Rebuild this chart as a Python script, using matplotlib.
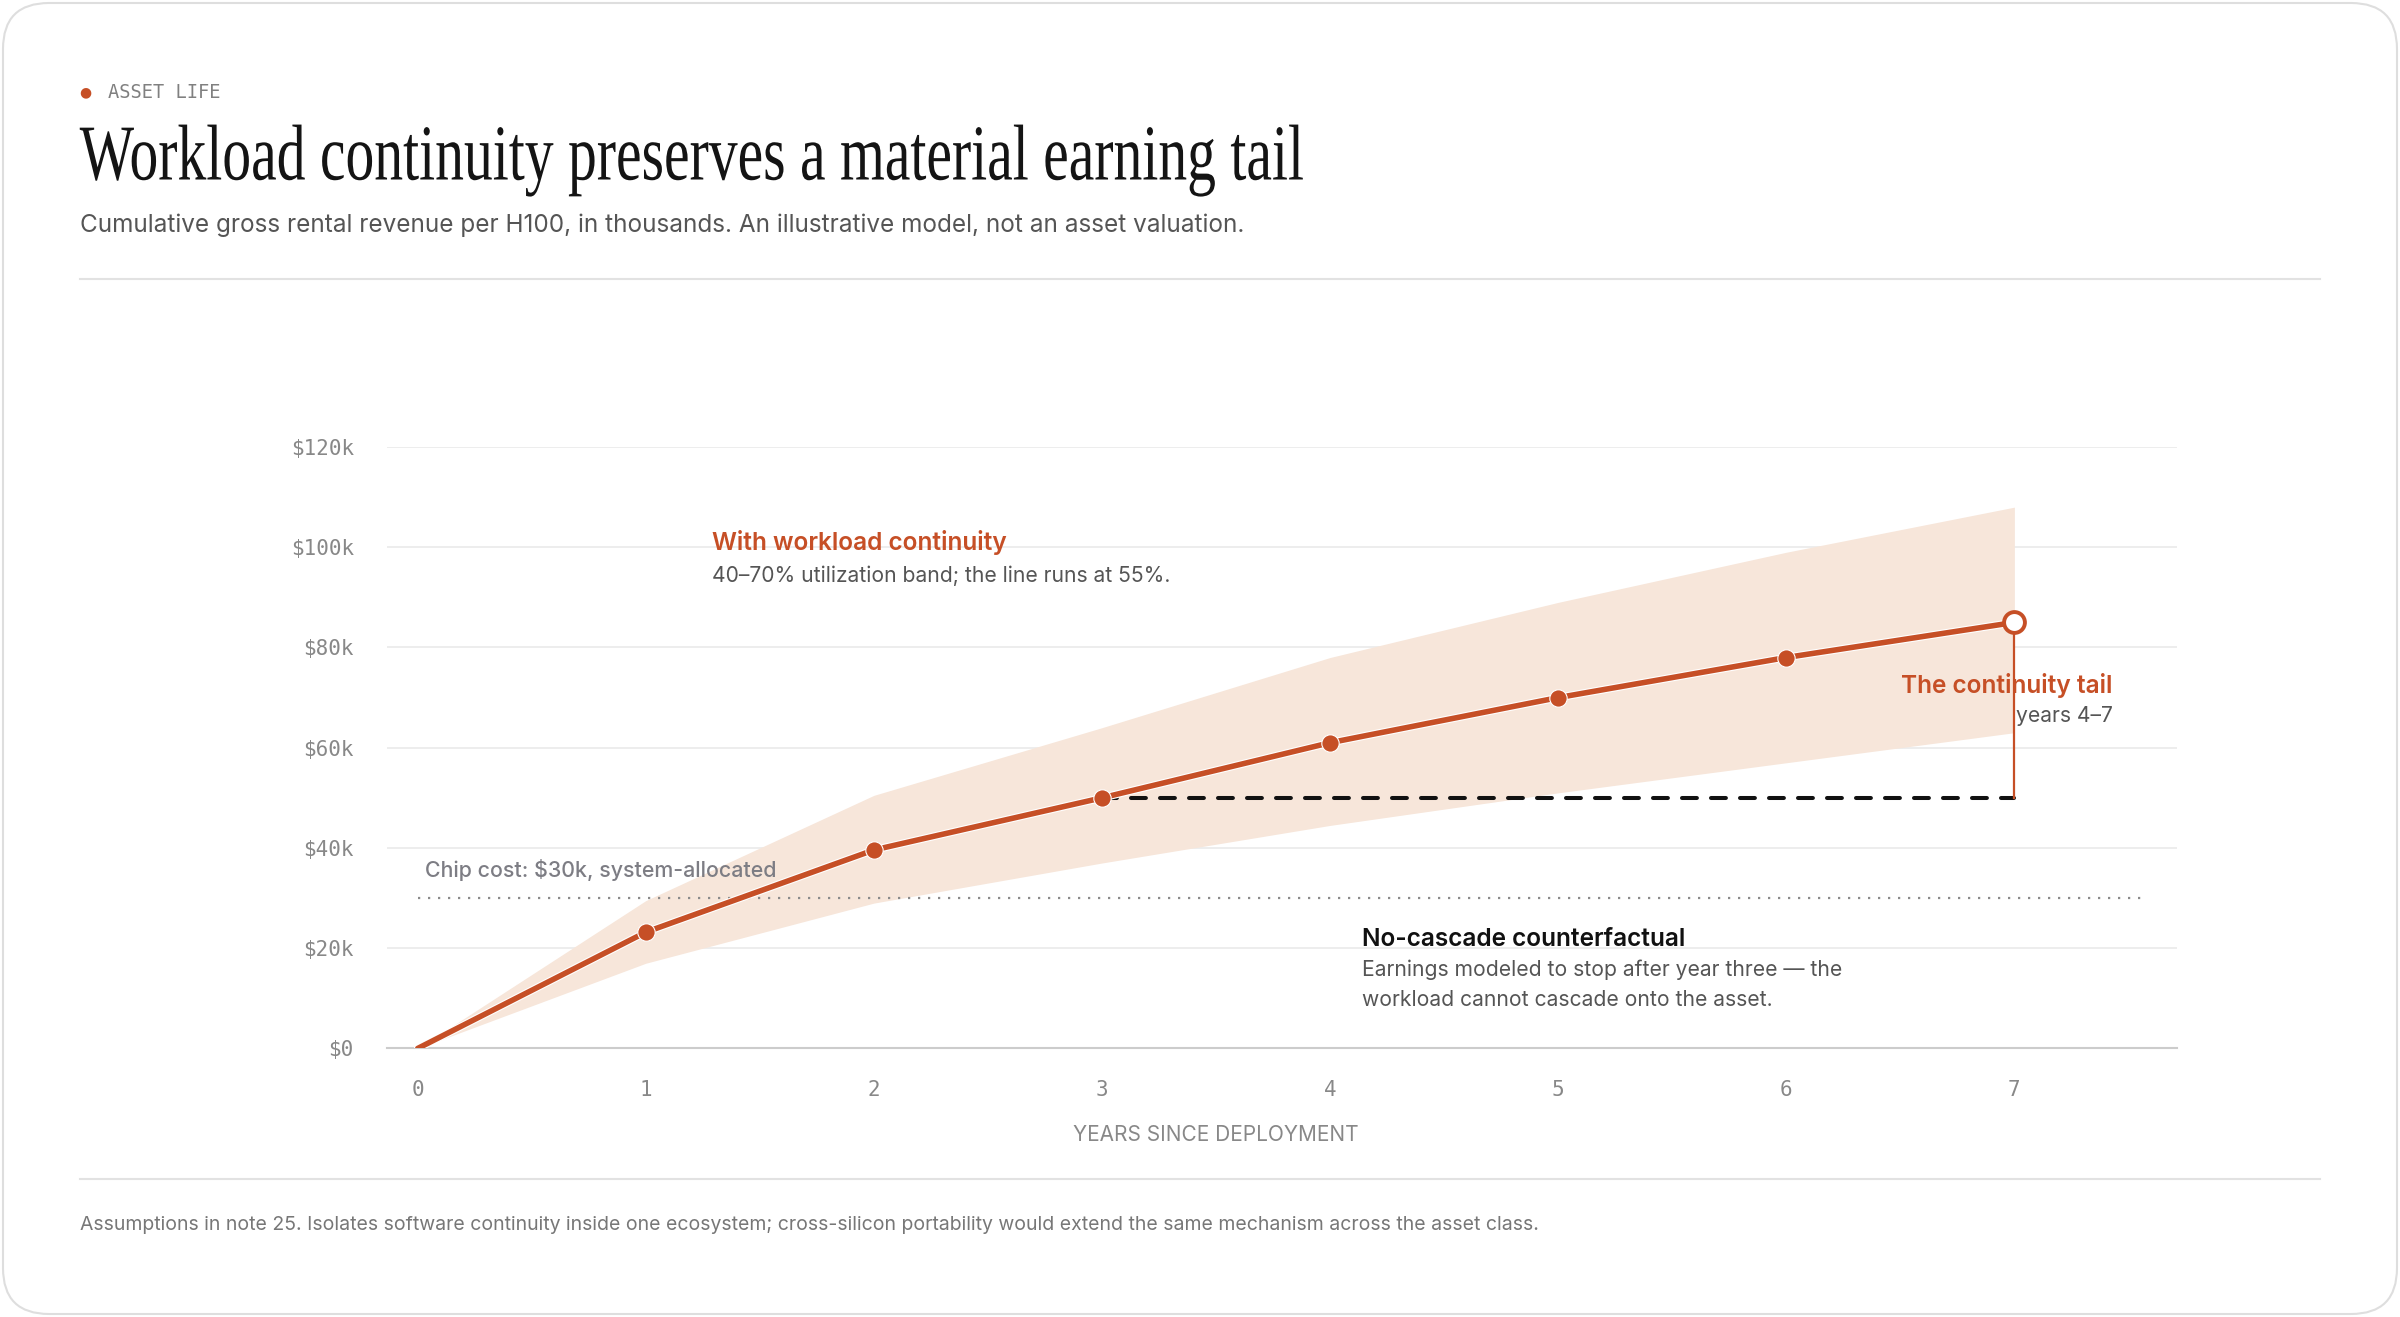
"""
Asset life chart: cumulative rental revenue per H100 with a utilization band.
"""

import matplotlib
matplotlib.use('Agg')
import matplotlib.pyplot as plt
from matplotlib import patheffects
from matplotlib.patches import FancyBboxPatch
from matplotlib.transforms import Affine2D, blended_transform_factory, IdentityTransform

# * Data, in thousands of dollars
years = [0, 1, 2, 3, 4, 5, 6, 7]
revenue_55 = [0, 23.2, 39.6, 50, 61, 70, 78, 85]
band_low = [0, 17, 29, 37, 44.5, 51, 57, 63]
band_high = [0, 29.5, 50.5, 64, 78, 89, 99, 108]
stop_years = [3, 7]
stop_value = [50, 50]
chip_cost = 30
y_ticks = [0, 20, 40, 60, 80, 100, 120]
y_tick_labels = ['$0', '$20k', '$40k', '$60k', '$80k', '$100k', '$120k']

ORANGE = '#c64f26'
BAND = '#f7e6da'
SANS = 'Inter'
MONO = 'DejaVu Sans Mono'


class Squeeze(patheffects.AbstractPathEffect):
    """Narrows glyphs horizontally around a fixed x (display pixels)."""

    def __init__(self, x0, sx):
        super().__init__()
        self.x0 = x0
        self.sx = sx

    def draw_path(self, renderer, gc, tpath, affine, rgbFace=None):
        squeeze = Affine2D().translate(-self.x0, 0).scale(self.sx, 1).translate(self.x0, 0)
        renderer.draw_path(gc, tpath, affine + squeeze, rgbFace)


fig = plt.figure(figsize=(24, 13.17), dpi=100)
fig.patch.set_facecolor('white')

# * Card outline
card = FancyBboxPatch((3, 3), 2394, 1311, boxstyle='round,pad=0,rounding_size=46',
                      transform=IdentityTransform(), facecolor='none',
                      edgecolor='#dedede', linewidth=1.5, zorder=-1)
fig.patches.append(card)

# * Header
fig.text(0.0357, 0.9299, '\u25cf', color=ORANGE, fontsize=10, ha='center', va='center')
fig.text(0.045, 0.9299, 'ASSET LIFE', family=MONO, fontsize=13.5, color='#808080',
         ha='left', va='center')
title = fig.text(0.0332, 0.8637, 'Workload continuity preserves a material earning tail',
                 family='Liberation Serif', fontsize=57, color='#141414',
                 ha='left', va='baseline')
fig.text(0.0332, 0.8292, 'Cumulative gross rental revenue per H100, in thousands. '
         'An illustrative model, not an asset valuation.',
         family=SANS, fontsize=17.5, color='#555555', ha='left', va='center')
fig.add_artist(plt.Line2D([0.0332, 0.9668], [0.7885, 0.7885], color='#e2e2e2', lw=1.5))
fig.add_artist(plt.Line2D([0.0332, 0.9668], [0.1051, 0.1051], color='#e2e2e2', lw=1.5))
fig.text(0.0332, 0.0702, 'Assumptions in note 25. Isolates software continuity inside one '
         'ecosystem; cross-silicon portability would extend the same mechanism across '
         'the asset class.', family=SANS, fontsize=14, color='#777777',
         ha='left', va='center')

# * Plot area
ax = fig.add_axes([0.1613, 0.2039, 0.7456, 0.4567])
ax.set_xlim(-0.134, 7.711)
ax.set_ylim(0, 120)
for side in ['top', 'right', 'left']:
    ax.spines[side].set_visible(False)
ax.spines['bottom'].set_color('#cccccc')
ax.spines['bottom'].set_linewidth(1.5)
ax.set_yticks(y_ticks)
ax.set_yticklabels(y_tick_labels)
ax.set_xticks(years)
ax.grid(axis='y', color='#ececec', lw=1.3)
ax.set_axisbelow(True)
ax.tick_params(length=0, colors='#888888', labelsize=15)
ax.tick_params(axis='y', pad=24)
ax.tick_params(axis='x', pad=23)
for lab in ax.get_xticklabels() + ax.get_yticklabels():
    lab.set_family(MONO)

halo = [patheffects.Stroke(linewidth=5.6, foreground='white'), patheffects.Normal()]

ax.fill_between(years, band_low, band_high, color=BAND, lw=0, zorder=1)
ax.plot([years[0], 7.56], [chip_cost, chip_cost], color='#8a8a8a', lw=1.6,
        linestyle=(0, (1, 3.5)), zorder=2)
ax.plot(stop_years, stop_value, color='#111111', lw=2.9, linestyle=(0, (3.7, 3.5)),
        dash_capstyle='round', zorder=3)
ax.plot([7, 7], [stop_value[-1], revenue_55[-1]], color=ORANGE, lw=1.6, zorder=4)
ax.plot(years, revenue_55, color=ORANGE, lw=4, solid_capstyle='round',
        path_effects=halo, zorder=4)
ax.plot(years[1:-1], revenue_55[1:-1], 'o', mfc=ORANGE, mec='white', mew=0.8,
        ms=12.5, zorder=5)
ax.plot(years[-1], revenue_55[-1], 'o', mfc='white', mec=ORANGE, mew=2.8, ms=15, zorder=6)

# * Annotations
ax.text(0.03, 35.7, 'Chip cost: $30k, system-allocated', family=SANS, fontsize=15.4,
        fontweight='medium', color='#7d7d84', ha='left', va='center')
ax.text(1.29, 101, 'With workload continuity', family=SANS, fontsize=17.6,
        fontweight='semibold', color=ORANGE, ha='left', va='center')
ax.text(1.29, 94.4, '40\u201370% utilization band; the line runs at 55%.', family=SANS,
        fontsize=15.2, color='#555555', ha='left', va='center')
ax.text(7.43, 72.4, 'The continuity tail', family=SANS, fontsize=17.6,
        fontweight='semibold', color=ORANGE, ha='right', va='center', zorder=3)
ax.text(7.43, 66.3, 'years 4\u20137', family=SANS, fontsize=15.2, color='#555555',
        ha='right', va='center', zorder=3)
ax.text(4.14, 21.8, 'No-cascade counterfactual', family=SANS, fontsize=17.6,
        fontweight='semibold', color='#111111', ha='left', va='center')
ax.text(4.14, 15.7, 'Earnings modeled to stop after year three \u2014 the', family=SANS,
        fontsize=15.2, color='#555555', ha='left', va='center')
ax.text(4.14, 9.6, 'workload cannot cascade onto the asset.', family=SANS,
        fontsize=15.2, color='#555555', ha='left', va='center')

trans = blended_transform_factory(ax.transData, ax.transAxes)
ax.text(3.5, -0.1435, 'YEARS SINCE DEPLOYMENT', transform=trans, family=SANS,
        fontsize=15, color='#888888', ha='center', va='center')

# * The headline face is a condensed serif: narrow the title to its width
fig.canvas.draw()
box = title.get_window_extent()
target_width = 1224
title.set_path_effects([Squeeze(box.x0, target_width / box.width)])

fig.savefig('out.png', dpi=100, facecolor='white')
